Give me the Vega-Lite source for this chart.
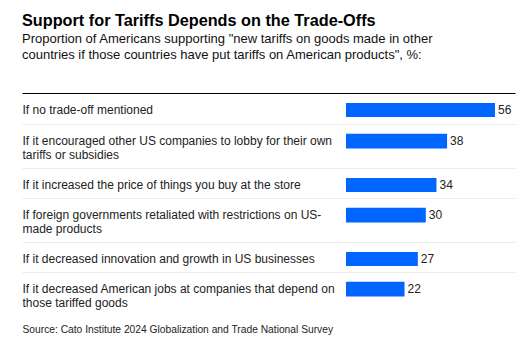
{
  "$schema": "https://vega.github.io/schema/vega-lite/v6.json",
  "padding": {"left": 22, "top": 12, "right": 10, "bottom": 10},
  "background": "white",
  "config": {"font": "Liberation Sans", "view": {"stroke": null}},
  "title": {
    "text": "Support for Tariffs Depends on the Trade-Offs",
    "subtitle": ["Proportion of Americans supporting \"new tariffs on goods made in other", "countries if those countries have put tariffs on American products\", %:"],
    "anchor": "start", "frame": "group",
    "fontSize": 16.25, "fontWeight": "bold", "color": "#000000",
    "subtitleFontSize": 13, "subtitleColor": "#111111", "subtitleLineHeight": 16, "subtitlePadding": 4,
    "offset": 31
  },
  "data": {"values": [
    {"id": 1, "label": "If no trade-off mentioned", "value": 56},
    {"id": 2, "label": "If it encouraged other US companies to lobby for their own|tariffs or subsidies", "value": 38},
    {"id": 3, "label": "If it increased the price of things you buy at the store", "value": 34},
    {"id": 4, "label": "If foreign governments retaliated with restrictions on US-|made products", "value": 30},
    {"id": 5, "label": "If it decreased innovation and growth in US businesses", "value": 27},
    {"id": 6, "label": "If it decreased American jobs at companies that depend on|those tariffed goods", "value": 22}
  ]},
  "spacing": 0,
  "bounds": "flush",
  "resolve": {"scale": {"x": "independent", "y": "independent"}},
  "vconcat": [
    {
      "width": 493, "height": 31,
      "transform": [{"filter": "datum.id == 1"}],
      "encoding": {"y": {"field": "label", "type": "nominal", "scale": {"type": "band", "paddingInner": 0, "paddingOuter": 0.60714, "align": 0.58824, "round": false}, "axis": {"title": null, "domain": false, "ticks": false, "tickSize": 0, "labelPadding": 0, "labelAlign": "left", "labelBaseline": "alphabetic", "labelOffset": 4, "labelFontSize": 12, "labelColor": "#222222", "labelLimit": 400, "labelLineHeight": 14, "labelExpr": "split(datum.label, '|')"}}},
      "layer": [
        {"mark": {"type": "bar", "color": "#0066ff"}, "encoding": {"x": {"field": "value", "type": "quantitative", "scale": {"domain": [-121.77, 63.52], "nice": false}, "axis": {"orient": "top", "title": null, "labels": false, "ticks": false, "grid": false, "domainColor": "#000000", "domainWidth": 1}}}},
        {"mark": {"type": "text", "align": "left", "baseline": "middle", "dx": 3, "fontSize": 12, "color": "#222222"}, "encoding": {"x": {"field": "value", "type": "quantitative"}, "text": {"field": "value", "type": "quantitative"}}}
      ]
    },
    {
      "width": 493, "height": 44,
      "transform": [{"filter": "datum.id == 2"}],
      "encoding": {"y": {"field": "label", "type": "nominal", "scale": {"type": "band", "paddingInner": 0, "paddingOuter": 1.071429, "align": 0.333333, "round": false}, "axis": {"title": null, "domain": false, "ticks": false, "tickSize": 0, "labelPadding": 0, "labelAlign": "left", "labelBaseline": "alphabetic", "labelOffset": 4, "labelFontSize": 12, "labelColor": "#222222", "labelLimit": 400, "labelLineHeight": 14, "labelExpr": "split(datum.label, '|')"}}},
      "layer": [
        {"mark": {"type": "bar", "color": "#0066ff"}, "encoding": {"x": {"field": "value", "type": "quantitative", "scale": {"domain": [-121.77, 63.52], "nice": false}, "axis": {"orient": "top", "title": null, "labels": false, "ticks": false, "grid": false, "domainColor": "#ebebeb", "domainWidth": 1}}}},
        {"mark": {"type": "text", "align": "left", "baseline": "middle", "dx": 3, "fontSize": 12, "color": "#222222"}, "encoding": {"x": {"field": "value", "type": "quantitative"}, "text": {"field": "value", "type": "quantitative"}}}
      ]
    },
    {
      "width": 493, "height": 30,
      "transform": [{"filter": "datum.id == 3"}],
      "encoding": {"y": {"field": "label", "type": "nominal", "scale": {"type": "band", "paddingInner": 0, "paddingOuter": 0.571429, "align": 0.625, "round": false}, "axis": {"title": null, "domain": false, "ticks": false, "tickSize": 0, "labelPadding": 0, "labelAlign": "left", "labelBaseline": "alphabetic", "labelOffset": 4, "labelFontSize": 12, "labelColor": "#222222", "labelLimit": 400, "labelLineHeight": 14, "labelExpr": "split(datum.label, '|')"}}},
      "layer": [
        {"mark": {"type": "bar", "color": "#0066ff"}, "encoding": {"x": {"field": "value", "type": "quantitative", "scale": {"domain": [-121.77, 63.52], "nice": false}, "axis": {"orient": "top", "title": null, "labels": false, "ticks": false, "grid": false, "domainColor": "#ebebeb", "domainWidth": 1}}}},
        {"mark": {"type": "text", "align": "left", "baseline": "middle", "dx": 3, "fontSize": 12, "color": "#222222"}, "encoding": {"x": {"field": "value", "type": "quantitative"}, "text": {"field": "value", "type": "quantitative"}}}
      ]
    },
    {
      "width": 493, "height": 44,
      "transform": [{"filter": "datum.id == 4"}],
      "encoding": {"y": {"field": "label", "type": "nominal", "scale": {"type": "band", "paddingInner": 0, "paddingOuter": 1.071429, "align": 0.333333, "round": false}, "axis": {"title": null, "domain": false, "ticks": false, "tickSize": 0, "labelPadding": 0, "labelAlign": "left", "labelBaseline": "alphabetic", "labelOffset": 4, "labelFontSize": 12, "labelColor": "#222222", "labelLimit": 400, "labelLineHeight": 14, "labelExpr": "split(datum.label, '|')"}}},
      "layer": [
        {"mark": {"type": "bar", "color": "#0066ff"}, "encoding": {"x": {"field": "value", "type": "quantitative", "scale": {"domain": [-121.77, 63.52], "nice": false}, "axis": {"orient": "top", "title": null, "labels": false, "ticks": false, "grid": false, "domainColor": "#ebebeb", "domainWidth": 1}}}},
        {"mark": {"type": "text", "align": "left", "baseline": "middle", "dx": 3, "fontSize": 12, "color": "#222222"}, "encoding": {"x": {"field": "value", "type": "quantitative"}, "text": {"field": "value", "type": "quantitative"}}}
      ]
    },
    {
      "width": 493, "height": 30,
      "transform": [{"filter": "datum.id == 5"}],
      "encoding": {"y": {"field": "label", "type": "nominal", "scale": {"type": "band", "paddingInner": 0, "paddingOuter": 0.571429, "align": 0.625, "round": false}, "axis": {"title": null, "domain": false, "ticks": false, "tickSize": 0, "labelPadding": 0, "labelAlign": "left", "labelBaseline": "alphabetic", "labelOffset": 4, "labelFontSize": 12, "labelColor": "#222222", "labelLimit": 400, "labelLineHeight": 14, "labelExpr": "split(datum.label, '|')"}}},
      "layer": [
        {"mark": {"type": "bar", "color": "#0066ff"}, "encoding": {"x": {"field": "value", "type": "quantitative", "scale": {"domain": [-121.77, 63.52], "nice": false}, "axis": {"orient": "top", "title": null, "labels": false, "ticks": false, "grid": false, "domainColor": "#ebebeb", "domainWidth": 1}}}},
        {"mark": {"type": "text", "align": "left", "baseline": "middle", "dx": 3, "fontSize": 12, "color": "#222222"}, "encoding": {"x": {"field": "value", "type": "quantitative"}, "text": {"field": "value", "type": "quantitative"}}}
      ]
    },
    {
      "width": 493, "height": 44,
      "transform": [{"filter": "datum.id == 6"}],
      "encoding": {"y": {"field": "label", "type": "nominal", "scale": {"type": "band", "paddingInner": 0, "paddingOuter": 1.071429, "align": 0.333333, "round": false}, "axis": {"title": null, "domain": false, "ticks": false, "tickSize": 0, "labelPadding": 0, "labelAlign": "left", "labelBaseline": "alphabetic", "labelOffset": 4, "labelFontSize": 12, "labelColor": "#222222", "labelLimit": 400, "labelLineHeight": 14, "labelExpr": "split(datum.label, '|')"}}},
      "layer": [
        {"mark": {"type": "bar", "color": "#0066ff"}, "encoding": {"x": {"field": "value", "type": "quantitative", "scale": {"domain": [-121.77, 63.52], "nice": false}, "axis": {"orient": "top", "title": null, "labels": false, "ticks": false, "grid": false, "domainColor": "#ebebeb", "domainWidth": 1}}}},
        {"mark": {"type": "text", "align": "left", "baseline": "middle", "dx": 3, "fontSize": 12, "color": "#222222"}, "encoding": {"x": {"field": "value", "type": "quantitative", "axis": {"orient": "bottom", "title": "Source: Cato Institute 2024 Globalization and Trade National Survey", "titleFontSize": 10.25, "titleFontWeight": "normal", "titleColor": "#222222", "titleAnchor": "start", "titleAlign": "left", "titleBaseline": "alphabetic", "titlePadding": 16, "domain": false, "labels": false, "ticks": false, "grid": false}}, "text": {"field": "value", "type": "quantitative"}}}
      ]
    }
  ]
}
